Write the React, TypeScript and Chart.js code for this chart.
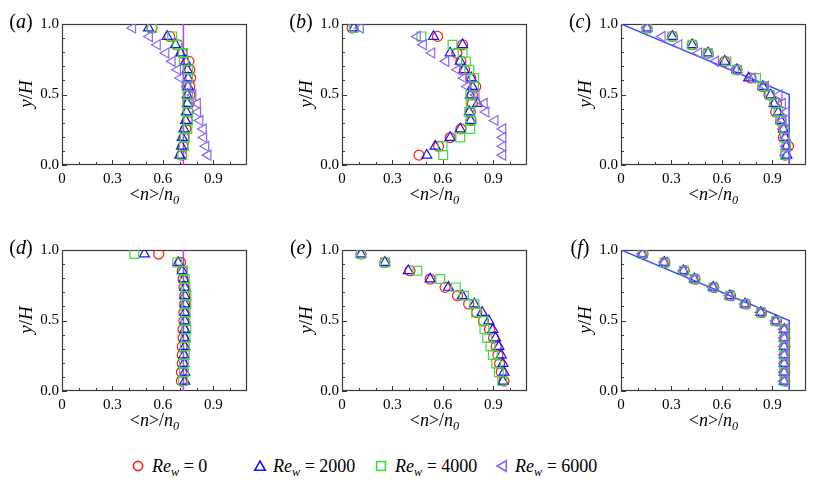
import React, { useEffect, useRef } from "react";
import { Chart, registerables } from "chart.js";
Chart.register(...registerables);

// ---------- data ----------
const Y_LEVELS = [0.972, 0.912, 0.853, 0.794, 0.735, 0.676, 0.617, 0.557, 0.497, 0.437, 0.376, 0.316, 0.256, 0.195, 0.133, 0.07];

const A_RE0 = [0.535, 0.64, 0.685, 0.715, 0.755, 0.76, 0.765, 0.76, 0.76, 0.755, 0.75, 0.745, 0.735, 0.725, 0.72, 0.71];
const A_RE2000 = [0.515, 0.625, 0.675, 0.705, 0.735, 0.745, 0.75, 0.75, 0.745, 0.745, 0.74, 0.735, 0.725, 0.715, 0.71, 0.7];
const A_RE4000 = [0.535, 0.655, 0.685, 0.72, 0.725, 0.75, 0.75, 0.74, 0.75, 0.745, 0.75, 0.75, 0.745, 0.73, 0.725, 0.715];
const A_RE6000 = [0.42, 0.52, 0.567, 0.618, 0.655, 0.687, 0.705, 0.745, 0.778, 0.805, 0.807, 0.82, 0.84, 0.843, 0.855, 0.868];

const B_RE0 = [0.06, 0.568, 0.717, 0.683, 0.707, 0.729, 0.765, 0.795, 0.775, 0.775, 0.763, 0.767, 0.707, 0.643, 0.574, 0.458];
const B_RE2000 = [0.07, 0.544, 0.717, 0.643, 0.703, 0.725, 0.769, 0.775, 0.763, 0.807, 0.757, 0.765, 0.703, 0.643, 0.554, 0.504];
const B_RE4000 = [0.07, 0.472, 0.657, 0.717, 0.737, 0.757, 0.785, 0.785, 0.763, 0.765, 0.757, 0.765, 0.763, 0.703, 0.598, 0.602];
const B_RE6000 = [0.109, 0.448, 0.484, 0.534, 0.617, 0.687, 0.725, 0.745, 0.797, 0.846, 0.856, 0.91, 0.956, 0.956, 0.956, 0.956];

const C_RE0 = [0.155, 0.305, 0.424, 0.518, 0.617, 0.689, 0.773, 0.843, 0.88, 0.924, 0.92, 0.95, 0.966, 0.966, 0.996, 0.976];
const C_RE2000 = [0.155, 0.305, 0.424, 0.518, 0.617, 0.689, 0.759, 0.843, 0.89, 0.91, 0.936, 0.95, 0.966, 0.976, 0.982, 0.986];
const C_RE4000 = [0.155, 0.305, 0.424, 0.518, 0.627, 0.689, 0.803, 0.843, 0.885, 0.91, 0.936, 0.95, 0.97, 0.976, 0.982, 0.976];
const C_RE6000 = [0.155, 0.245, 0.344, 0.462, 0.562, 0.68, 0.78, 0.859, 0.94, 0.96, 0.984, 0.964, 0.966, 0.98, 0.982, 0.986];

const D_RE0 = [0.575, 0.705, 0.715, 0.72, 0.725, 0.73, 0.73, 0.725, 0.725, 0.72, 0.72, 0.715, 0.715, 0.715, 0.71, 0.71];
const D_RE2000 = [0.49, 0.69, 0.715, 0.725, 0.73, 0.73, 0.73, 0.73, 0.73, 0.73, 0.73, 0.73, 0.725, 0.725, 0.73, 0.73];
const D_RE4000 = [0.43, 0.685, 0.72, 0.73, 0.735, 0.74, 0.74, 0.735, 0.735, 0.74, 0.735, 0.73, 0.73, 0.725, 0.725, 0.72];

const E_RE0 = [0.113, 0.255, 0.404, 0.524, 0.613, 0.687, 0.753, 0.801, 0.841, 0.877, 0.901, 0.917, 0.927, 0.937, 0.947, 0.963];
const E_RE2000 = [0.113, 0.255, 0.394, 0.524, 0.633, 0.715, 0.787, 0.833, 0.873, 0.897, 0.913, 0.933, 0.947, 0.957, 0.963, 0.957];
const E_RE4000 = [0.113, 0.255, 0.448, 0.584, 0.677, 0.725, 0.787, 0.797, 0.841, 0.847, 0.863, 0.883, 0.897, 0.917, 0.933, 0.953];

const F_RE0 = [0.131, 0.261, 0.376, 0.44, 0.552, 0.651, 0.741, 0.835, 0.924, 0.974, 0.974, 0.974, 0.972, 0.974, 0.974, 0.974];
const F_RE2000 = [0.127, 0.257, 0.372, 0.436, 0.548, 0.647, 0.737, 0.831, 0.92, 0.97, 0.97, 0.97, 0.97, 0.97, 0.97, 0.97];
const F_RE4000 = [0.129, 0.259, 0.374, 0.438, 0.55, 0.649, 0.739, 0.833, 0.922, 0.972, 0.972, 0.972, 0.972, 0.972, 0.972, 0.972];
const F_RE6000 = [0.127, 0.257, 0.372, 0.436, 0.548, 0.647, 0.737, 0.831, 0.92, 0.97, 0.97, 0.97, 0.97, 0.97, 0.97, 0.97];

const VLINE_X = [0.722, 0.722];
const VLINE_Y = [0, 1];
const KINK_X = [0, 1.0, 1.0];
const KINK_Y = [1, 0.5, 0];

const X_TICKS = [0, 0.1, 0.2, 0.3, 0.4, 0.5, 0.6, 0.7, 0.8, 0.9, 1.0];
const X_LABELS = [0, 0.3, 0.6, 0.9];
const Y_TICKS = [0, 0.1, 0.2, 0.3, 0.4, 0.5, 0.6, 0.7, 0.8, 0.9, 1.0];
const Y_LABELS = [0, 0.5, 1.0];

const SERIES_NAMES = ["0", "2000", "4000", "6000"];
const PANEL_LETTERS = ["a", "b", "c", "d", "e", "f"];

// ---------- styles ----------
const RED = "#ff1a1a";
const BLUE = "#1414ff";
const GREEN = "#3fdc3f";
const PURPLE = "#8a66ff";
const VLINE_COLOR = "#b04cf0";
const KINK_COLOR = "#3858ff";
const FONT = '"Liberation Serif", "Times New Roman", Tinos, serif';

type Style = "circle" | "triangle" | "rect" | "left";
const STYLE_OF: Style[] = ["circle", "triangle", "rect", "left"];
const COLOR_OF = [RED, BLUE, GREEN, PURPLE];

const PANELS: { series: (number[] | null)[]; line: "v" | "k" | null }[] = [
  { series: [A_RE0, A_RE2000, A_RE4000, A_RE6000], line: "v" },
  { series: [B_RE0, B_RE2000, B_RE4000, B_RE6000], line: null },
  { series: [C_RE0, C_RE2000, C_RE4000, C_RE6000], line: "k" },
  { series: [D_RE0, D_RE2000, D_RE4000, null], line: "v" },
  { series: [E_RE0, E_RE2000, E_RE4000, null], line: null },
  { series: [F_RE0, F_RE2000, F_RE4000, F_RE6000], line: "k" },
];

const PLOT_LEFT = [62, 342, 621];
const PLOT_TOP = [22, 248];
const PLOT_W = 185;
const PLOT_H = 143;
const YAX_W = 62;
const XAX_H = 22;
const PAD_T = 10;
const PAD_R = 8;
const CW = YAX_W + PLOT_W + PAD_R;
const CH = PAD_T + PLOT_H + XAX_H;

const framePlugin = {
  id: "frameTicks",
  beforeDatasetsDraw(chart: any) {
    const { ctx, chartArea, scales } = chart;
    const { left, right, top, bottom } = chartArea;
    const xs = scales.x;
    const ys = scales.y;
    ctx.save();
    ctx.strokeStyle = "#3a3a3a";
    ctx.lineWidth = 1;
    ctx.beginPath();
    X_TICKS.forEach((v) => {
      const major = X_LABELS.some((l) => Math.abs(l - v) < 1e-6);
      const px = Math.round(xs.getPixelForValue(v)) + 0.5;
      ctx.moveTo(px, bottom);
      ctx.lineTo(px, bottom - (major ? 5 : 3));
    });
    Y_TICKS.forEach((v) => {
      const major = Y_LABELS.some((l) => Math.abs(l - v) < 1e-6);
      const py = Math.round(ys.getPixelForValue(v)) + 0.5;
      ctx.moveTo(left, py);
      ctx.lineTo(left + (major ? 5 : 3), py);
    });
    ctx.stroke();
    ctx.lineWidth = 1.2;
    ctx.strokeRect(left + 0.5, top + 0.5, right - left - 1, bottom - top - 1);
    ctx.restore();
  },
};

function buildDatasets(p: (typeof PANELS)[number]) {
  const ds: any[] = [];
  if (p.line === "v") {
    ds.push({
      type: "scatter",
      label: "line",
      data: VLINE_X.map((x, i) => ({ x, y: VLINE_Y[i] })),
      showLine: true,
      borderColor: VLINE_COLOR,
      borderWidth: 1.6,
      pointRadius: 0,
      order: 10,
    });
  }
  if (p.line === "k") {
    ds.push({
      type: "scatter",
      label: "line",
      data: KINK_X.map((x, i) => ({ x, y: KINK_Y[i] })),
      showLine: true,
      borderColor: KINK_COLOR,
      borderWidth: 1.6,
      pointRadius: 0,
      order: 10,
    });
  }
  [3, 2, 1, 0].forEach((k) => {
    const xs = p.series[k];
    if (!xs) return;
    const st = STYLE_OF[k];
    ds.push({
      type: "scatter",
      label: "Re_w = " + SERIES_NAMES[k],
      data: xs.map((x, i) => ({ x, y: Y_LEVELS[i] })),
      showLine: false,
      pointStyle: st === "left" ? "triangle" : st,
      pointRotation: st === "left" ? -90 : 0,
      pointRadius: st === "circle" ? 5 : st === "rect" ? 6.2 : 5.8,
      pointBorderColor: COLOR_OF[k],
      pointBackgroundColor: "rgba(0,0,0,0)",
      pointBorderWidth: 1.2,
      borderColor: COLOR_OF[k],
      backgroundColor: "rgba(0,0,0,0)",
    });
  });
  return ds;
}

function Panel({ idx }: { idx: number }) {
  const ref = useRef<HTMLCanvasElement | null>(null);
  useEffect(() => {
    if (!ref.current) return;
    const p = PANELS[idx];
    const chart = new Chart(ref.current, {
      type: "scatter",
      data: { datasets: buildDatasets(p) },
      options: {
        animation: false,
        responsive: false,
        events: [],
        devicePixelRatio: 1,
        layout: { padding: { top: PAD_T, right: PAD_R, left: 0, bottom: 0 } },
        plugins: { legend: { display: false }, tooltip: { enabled: false } },
        scales: {
          x: {
            type: "linear",
            min: 0,
            max: 1.1,
            grid: { display: false, drawTicks: false },
            border: { display: false },
            afterBuildTicks: (s: any) => {
              s.ticks = X_LABELS.map((v) => ({ value: v }));
            },
            afterFit: (s: any) => {
              s.height = XAX_H;
            },
            ticks: {
              padding: 5,
              maxRotation: 0,
              autoSkip: false,
              color: "#000",
              font: { family: FONT, size: 15 },
              callback: (v: any) => (Number(v) === 0 ? "0" : Number(v).toFixed(1)),
            },
          },
          y: {
            type: "linear",
            min: 0,
            max: 1,
            grid: { display: false, drawTicks: false },
            border: { display: false },
            afterBuildTicks: (s: any) => {
              s.ticks = Y_LABELS.map((v) => ({ value: v }));
            },
            afterFit: (s: any) => {
              s.width = YAX_W;
            },
            ticks: {
              padding: 3,
              autoSkip: false,
              color: "#000",
              font: { family: FONT, size: 15 },
              callback: (v: any) => Number(v).toFixed(1),
            },
          },
        },
      } as any,
      plugins: [framePlugin],
    });
    return () => chart.destroy();
  }, [idx]);
  const col = idx % 3;
  const row = Math.floor(idx / 3);
  return (
    <canvas
      ref={ref}
      width={CW}
      height={CH}
      style={{
        position: "absolute",
        left: PLOT_LEFT[col] - YAX_W,
        top: PLOT_TOP[row] - PAD_T,
        width: CW,
        height: CH,
      }}
    />
  );
}

const center: React.CSSProperties = {
  position: "absolute",
  transform: "translate(-50%,-50%)",
  whiteSpace: "nowrap",
  fontFamily: FONT,
  color: "#000",
  lineHeight: 1,
};
const subStyle: React.CSSProperties = { fontSize: "0.68em", verticalAlign: "-0.35em", lineHeight: 0 };

function LegendMarker({ k }: { k: number }) {
  const c = COLOR_OF[k];
  let shape: React.ReactNode = null;
  if (k === 0) shape = <circle cx="7" cy="7" r="4.6" fill="none" stroke={c} strokeWidth="1.6" />;
  if (k === 1) shape = <polygon points="7,2 12.3,11.3 1.7,11.3" fill="none" stroke={c} strokeWidth="1.6" />;
  if (k === 2) shape = <rect x="2.6" y="2.6" width="8.8" height="8.8" fill="none" stroke={c} strokeWidth="1.6" />;
  if (k === 3) shape = <polygon points="2,7 11.3,1.7 11.3,12.3" fill="none" stroke={c} strokeWidth="1.6" />;
  return (
    <svg width="14" height="14" style={{ position: "absolute", left: -7, top: -7 }}>
      {shape}
    </svg>
  );
}

const LEGEND_MARK_X = [138, 260, 381, 502];
const LEGEND_TEXT_X = [152, 273, 395, 515];
const LEGEND_Y = 466;

export default function App() {
  return (
    <div
      style={{
        position: "absolute",
        left: 0,
        top: 0,
        width: 822,
        height: 493,
        background: "#fff",
        overflow: "hidden",
      }}
    >
      {PANEL_LETTERS.map((_, i) => (
        <Panel key={i} idx={i} />
      ))}
      {PANEL_LETTERS.map((letter, i) => {
        const col = i % 3;
        const row = Math.floor(i / 3);
        const pl = PLOT_LEFT[col];
        const pt = PLOT_TOP[row];
        return (
          <React.Fragment key={"t" + i}>
            <div style={{ ...center, left: pl - 41, top: pt - 1, fontSize: 20 }}>
              (<i>{letter}</i>)
            </div>
            <div
              style={{
                ...center,
                left: pl - 37,
                top: pt + PLOT_H / 2,
                fontSize: 19,
                transform: "translate(-50%,-50%) rotate(-90deg)",
              }}
            >
              <i>y</i>/<i>H</i>
            </div>
            <div style={{ ...center, left: pl + PLOT_W / 2, top: pt + PLOT_H + 29, fontSize: 18 }}>
              &lt;<i>n</i>&gt;/<i>n</i>
              <span style={subStyle}>
                <i>0</i>
              </span>
            </div>
          </React.Fragment>
        );
      })}
      {SERIES_NAMES.map((name, k) => (
        <React.Fragment key={"l" + k}>
          <div style={{ position: "absolute", left: LEGEND_MARK_X[k], top: LEGEND_Y }}>
            <LegendMarker k={k} />
          </div>
          <div
            style={{
              ...center,
              transform: "translate(0,-50%)",
              left: LEGEND_TEXT_X[k],
              top: LEGEND_Y,
              fontSize: 18,
            }}
          >
            <i>Re</i>
            <span style={subStyle}>
              <i>w</i>
            </span>
            {" = " + name}
          </div>
        </React.Fragment>
      ))}
    </div>
  );
}
